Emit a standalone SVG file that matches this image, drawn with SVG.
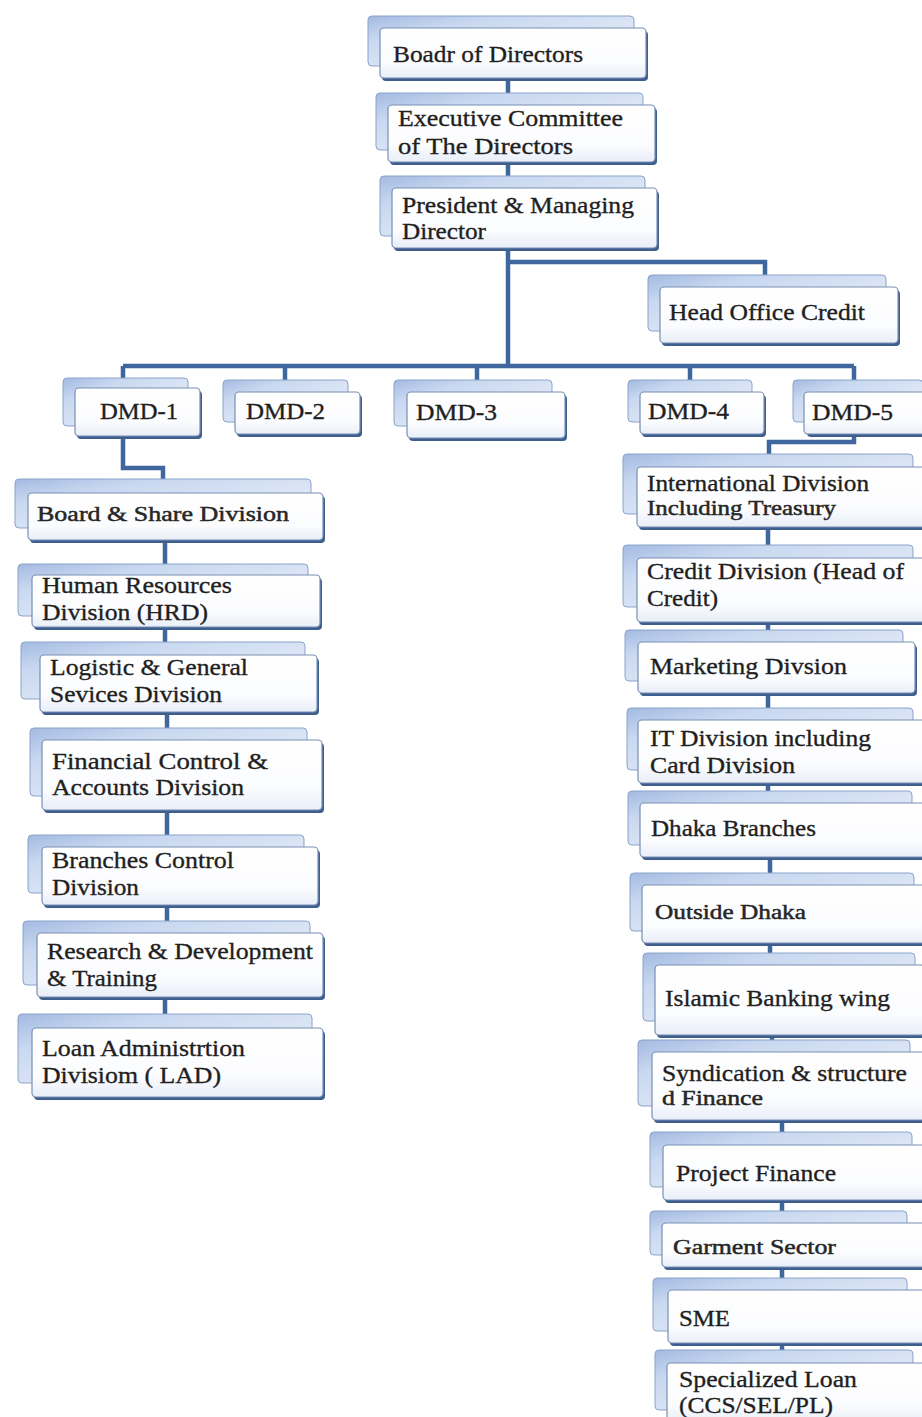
<svg xmlns="http://www.w3.org/2000/svg" width="922" height="1417" viewBox="0 0 922 1417">
<defs>
<linearGradient id="gBack" x1="0" y1="0" x2="1" y2="1">
<stop offset="0" stop-color="#a3bae1"/>
<stop offset="0.25" stop-color="#c9d8f0"/>
<stop offset="1" stop-color="#f1f5fb"/>
</linearGradient>
<linearGradient id="gFront" x1="0" y1="0" x2="0" y2="1">
<stop offset="0" stop-color="#ffffff"/>
<stop offset="0.7" stop-color="#fbfcfe"/>
<stop offset="1" stop-color="#e8eef8"/>
</linearGradient>
</defs>
<style>
.bk{fill:url(#gBack);stroke:#8aa3ca;stroke-width:1}
.sh{fill:#3e5e8e}
.fr{fill:url(#gFront);stroke:#7890b4;stroke-width:1.2}
.t{font-family:'Liberation Serif','Times New Roman',Tinos,serif;font-size:24px;fill:#1f1f1f;stroke:#1f1f1f;stroke-width:0.35}
.s{font-family:'Liberation Serif','Times New Roman',Tinos,serif;font-size:20px;fill:#262626;stroke:#262626;stroke-width:0.45}
.c{fill:none;stroke:#3f679e;stroke-width:4.5;stroke-linejoin:miter}
</style>
<rect width="922" height="1417" fill="#ffffff"/>
<g id="connectors">
<path class="c" d="M508 78V95M508 162V178M508 248V366"/>
<path class="c" d="M508 262H765V276"/>
<path class="c" d="M123 366H854M123 366V379M285 366V381M477 366V381M690 366V381M854 366V381"/>
<path class="c" d="M123 437V468H163V481"/>
<path class="c" d="M165 540V566M165 627V644M167 712V729M167 810V836M167 905V922M165 997V1017"/>
<path class="c" d="M854 433V442H769V455"/>
<path class="c" d="M768 527V547M768 622V631M768 693V709M768 783V792M770 857V874M770 943V954M772 1035V1041M782 1120V1134M782 1200V1212M782 1267V1279M782 1343V1352"/>
</g>
<g id="n1"><rect class="bk" x="368" y="16" width="266" height="50" rx="4"/><rect class="sh" x="382" y="31" width="266" height="50" rx="4"/><rect class="fr" x="380" y="28" width="266" height="50" rx="4"/><text class="t" x="393" y="62" textLength="190" lengthAdjust="spacingAndGlyphs">Boadr of Directors</text></g>
<g id="n2"><rect class="bk" x="376" y="93" width="267" height="57" rx="4"/><rect class="sh" x="390" y="108" width="267" height="57" rx="4"/><rect class="fr" x="388" y="105" width="267" height="57" rx="4"/><text class="t" x="398" y="126" textLength="225" lengthAdjust="spacingAndGlyphs">Executive Committee</text><text class="t" x="398" y="154" textLength="175" lengthAdjust="spacingAndGlyphs">of  The Directors</text></g>
<g id="n3"><rect class="bk" x="380" y="176" width="265" height="60" rx="4"/><rect class="sh" x="394" y="191" width="265" height="60" rx="4"/><rect class="fr" x="392" y="188" width="265" height="60" rx="4"/><text class="t" x="402" y="213" textLength="232" lengthAdjust="spacingAndGlyphs">President &amp; Managing</text><text class="t" x="402" y="239" textLength="84" lengthAdjust="spacingAndGlyphs">Director</text></g>
<g id="n4"><rect class="bk" x="648" y="275" width="238" height="56" rx="4"/><rect class="sh" x="662" y="290" width="238" height="56" rx="4"/><rect class="fr" x="660" y="287" width="238" height="56" rx="4"/><text class="t" x="669" y="320" textLength="196" lengthAdjust="spacingAndGlyphs">Head Office Credit</text></g>
<g id="n5"><rect class="bk" x="63" y="378" width="125" height="48" rx="4"/><rect class="sh" x="77" y="391" width="125" height="48" rx="4"/><rect class="fr" x="75" y="388" width="125" height="48" rx="4"/><text class="t" x="100" y="419" textLength="78" lengthAdjust="spacingAndGlyphs">DMD-1</text></g>
<g id="n6"><rect class="bk" x="223" y="380" width="125" height="42" rx="4"/><rect class="sh" x="237" y="395" width="125" height="42" rx="4"/><rect class="fr" x="235" y="392" width="125" height="42" rx="4"/><text class="t" x="246" y="419" textLength="79" lengthAdjust="spacingAndGlyphs">DMD-2</text></g>
<g id="n7"><rect class="bk" x="394" y="380" width="158" height="46" rx="4"/><rect class="sh" x="409" y="395" width="158" height="46" rx="4"/><rect class="fr" x="407" y="392" width="158" height="46" rx="4"/><text class="t" x="416" y="420" textLength="81" lengthAdjust="spacingAndGlyphs">DMD-3</text></g>
<g id="n8"><rect class="bk" x="628" y="380" width="124" height="42" rx="4"/><rect class="sh" x="642" y="395" width="124" height="42" rx="4"/><rect class="fr" x="640" y="392" width="124" height="42" rx="4"/><text class="t" x="648" y="419" textLength="81" lengthAdjust="spacingAndGlyphs">DMD-4</text></g>
<g id="n9"><rect class="bk" x="793" y="380" width="130" height="42" rx="4"/><rect class="sh" x="807" y="395" width="130" height="42" rx="4"/><rect class="fr" x="804" y="392" width="130" height="42" rx="4"/><text class="t" x="812" y="420" textLength="81" lengthAdjust="spacingAndGlyphs">DMD-5</text></g>
<g id="n10"><rect class="bk" x="15" y="479" width="296" height="49" rx="4"/><rect class="sh" x="30" y="496" width="295" height="47" rx="4"/><rect class="fr" x="28" y="493" width="295" height="47" rx="4"/><text class="s" x="37" y="521" textLength="252" lengthAdjust="spacingAndGlyphs">Board  &amp; Share Division</text></g>
<g id="n11"><rect class="bk" x="18" y="564" width="290" height="52" rx="4"/><rect class="sh" x="34" y="578" width="288" height="52" rx="4"/><rect class="fr" x="32" y="575" width="288" height="52" rx="4"/><text class="t" x="42" y="593" textLength="190" lengthAdjust="spacingAndGlyphs">Human Resources</text><text class="t" x="42" y="620" textLength="166" lengthAdjust="spacingAndGlyphs">Division (HRD)</text></g>
<g id="n12"><rect class="bk" x="21" y="642" width="284" height="57" rx="4"/><rect class="sh" x="42" y="658" width="277" height="57" rx="4"/><rect class="fr" x="40" y="655" width="277" height="57" rx="4"/><text class="t" x="50" y="675" textLength="198" lengthAdjust="spacingAndGlyphs">Logistic &amp; General</text><text class="t" x="50" y="702" textLength="172" lengthAdjust="spacingAndGlyphs">Sevices Division</text></g>
<g id="n13"><rect class="bk" x="30" y="728" width="277" height="68" rx="4"/><rect class="sh" x="44" y="743" width="280" height="70" rx="4"/><rect class="fr" x="42" y="740" width="280" height="70" rx="4"/><text class="t" x="52" y="769" textLength="216" lengthAdjust="spacingAndGlyphs">Financial Control  &amp;</text><text class="t" x="52" y="795" textLength="192" lengthAdjust="spacingAndGlyphs">Accounts Division</text></g>
<g id="n14"><rect class="bk" x="28" y="835" width="276" height="58" rx="4"/><rect class="sh" x="44" y="850" width="276" height="58" rx="4"/><rect class="fr" x="42" y="847" width="276" height="58" rx="4"/><text class="t" x="52" y="868" textLength="182" lengthAdjust="spacingAndGlyphs">Branches Control</text><text class="t" x="52" y="895" textLength="87" lengthAdjust="spacingAndGlyphs">Division</text></g>
<g id="n15"><rect class="bk" x="23" y="921" width="287" height="64" rx="4"/><rect class="sh" x="39" y="936" width="286" height="64" rx="4"/><rect class="fr" x="37" y="933" width="286" height="64" rx="4"/><text class="t" x="47" y="959" textLength="266" lengthAdjust="spacingAndGlyphs">Research &amp; Development</text><text class="t" x="47" y="986" textLength="110" lengthAdjust="spacingAndGlyphs">&amp; Training</text></g>
<g id="n16"><rect class="bk" x="18" y="1014" width="294" height="69" rx="4"/><rect class="sh" x="34" y="1031" width="291" height="69" rx="4"/><rect class="fr" x="32" y="1028" width="291" height="69" rx="4"/><text class="t" x="42" y="1056" textLength="203" lengthAdjust="spacingAndGlyphs">Loan Administrtion</text><text class="t" x="42" y="1083" textLength="179" lengthAdjust="spacingAndGlyphs">Divisiom ( LAD)</text></g>
<g id="n17"><rect class="bk" x="623" y="454" width="290" height="60" rx="4"/><rect class="sh" x="639" y="470" width="290" height="60" rx="4"/><rect class="fr" x="637" y="467" width="290" height="60" rx="4"/><text class="t" x="647" y="491" textLength="222" lengthAdjust="spacingAndGlyphs">International Division</text><text class="s" x="647" y="515" textLength="189" lengthAdjust="spacingAndGlyphs">Including Treasury</text></g>
<g id="n18"><rect class="bk" x="623" y="545" width="290" height="62" rx="4"/><rect class="sh" x="639" y="561" width="290" height="64" rx="4"/><rect class="fr" x="637" y="558" width="290" height="64" rx="4"/><text class="t" x="647" y="579" textLength="257" lengthAdjust="spacingAndGlyphs">Credit Division (Head of</text><text class="t" x="647" y="606" textLength="71" lengthAdjust="spacingAndGlyphs">Credit)</text></g>
<g id="n19"><rect class="bk" x="625" y="630" width="278" height="51" rx="4"/><rect class="sh" x="640" y="645" width="277" height="51" rx="4"/><rect class="fr" x="638" y="642" width="277" height="51" rx="4"/><text class="t" x="650" y="674" textLength="197" lengthAdjust="spacingAndGlyphs">Marketing Divsion</text></g>
<g id="n20"><rect class="bk" x="627" y="708" width="286" height="62" rx="4"/><rect class="sh" x="640" y="723" width="290" height="63" rx="4"/><rect class="fr" x="638" y="720" width="290" height="63" rx="4"/><text class="t" x="650" y="746" textLength="221" lengthAdjust="spacingAndGlyphs">IT Division including</text><text class="t" x="650" y="773" textLength="145" lengthAdjust="spacingAndGlyphs">Card Division</text></g>
<g id="n21"><rect class="bk" x="628" y="791" width="284" height="54" rx="4"/><rect class="sh" x="642" y="806" width="290" height="54" rx="4"/><rect class="fr" x="640" y="803" width="290" height="54" rx="4"/><text class="t" x="651" y="836" textLength="165" lengthAdjust="spacingAndGlyphs">Dhaka Branches</text></g>
<g id="n22"><rect class="bk" x="630" y="873" width="284" height="58" rx="4"/><rect class="sh" x="644" y="888" width="290" height="58" rx="4"/><rect class="fr" x="642" y="885" width="290" height="58" rx="4"/><text class="s" x="655" y="919" textLength="151" lengthAdjust="spacingAndGlyphs">Outside Dhaka</text></g>
<g id="n23"><rect class="bk" x="643" y="953" width="272" height="68" rx="4"/><rect class="sh" x="657" y="968" width="270" height="70" rx="4"/><rect class="fr" x="655" y="965" width="270" height="70" rx="4"/><text class="t" x="665" y="1006" textLength="225" lengthAdjust="spacingAndGlyphs">Islamic Banking wing</text></g>
<g id="n24"><rect class="bk" x="638" y="1040" width="272" height="66" rx="4"/><rect class="sh" x="654" y="1055" width="275" height="68" rx="4"/><rect class="fr" x="652" y="1052" width="275" height="68" rx="4"/><text class="t" x="662" y="1081" textLength="245" lengthAdjust="spacingAndGlyphs">Syndication &amp; structure</text><text class="s" x="662" y="1105" textLength="101" lengthAdjust="spacingAndGlyphs">d Finance</text></g>
<g id="n25"><rect class="bk" x="650" y="1132" width="262" height="55" rx="4"/><rect class="sh" x="665" y="1148" width="265" height="55" rx="4"/><rect class="fr" x="663" y="1145" width="265" height="55" rx="4"/><text class="t" x="676" y="1181" textLength="160" lengthAdjust="spacingAndGlyphs">Project Finance</text></g>
<g id="n26"><rect class="bk" x="650" y="1211" width="257" height="44" rx="4"/><rect class="sh" x="664" y="1226" width="265" height="44" rx="4"/><rect class="fr" x="662" y="1223" width="265" height="44" rx="4"/><text class="s" x="673" y="1254" textLength="163" lengthAdjust="spacingAndGlyphs">Garment Sector</text></g>
<g id="n27"><rect class="bk" x="653" y="1278" width="254" height="53" rx="4"/><rect class="sh" x="670" y="1293" width="260" height="53" rx="4"/><rect class="fr" x="668" y="1290" width="260" height="53" rx="4"/><text class="t" x="679" y="1326" textLength="51" lengthAdjust="spacingAndGlyphs">SME</text></g>
<g id="n28"><rect class="bk" x="655" y="1350" width="258" height="60" rx="4"/><rect class="sh" x="669" y="1366" width="260" height="60" rx="4"/><rect class="fr" x="667" y="1363" width="260" height="60" rx="4"/><text class="t" x="679" y="1387" textLength="178" lengthAdjust="spacingAndGlyphs">Specialized Loan</text><text class="t" x="679" y="1413" textLength="154" lengthAdjust="spacingAndGlyphs">(CCS/SEL/PL)</text></g>
</svg>
